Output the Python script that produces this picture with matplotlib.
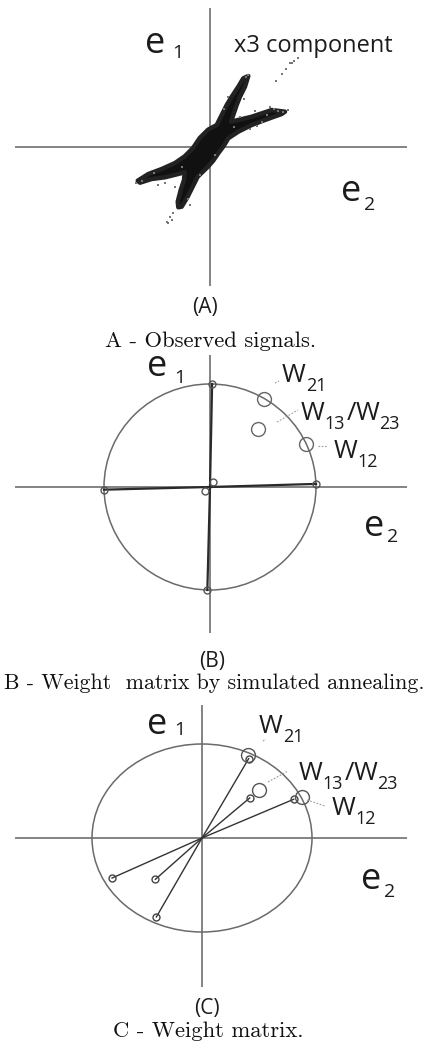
import matplotlib
matplotlib.use('Agg')
import matplotlib.pyplot as plt
from matplotlib.patches import Circle
from matplotlib.lines import Line2D

# panel A: outline of the dense cloud of observed signals (offsets from origin, px)
cloud_x = [38.3, 35.0, 30.0, 26.7, 23.3, 21.0, 41.7, 61.7, 75.0, 71.7, 55.0, 41.7, 28.3, 18.3,
           13.7, 8.7, 3.0, -3.0, -12.3, -17.3, -22.3, -28.3, -31.7, -32.3, -29.3, -26.0, -25.3,
           -31.7, -45.0, -58.3, -70.0, -72.3, -61.7, -48.3, -35.0, -25.3, -17.0, -10.3, -2.0,
           6.7, 11.7, 16.7, 21.7, 28.3, 33.3]
cloud_y = [71.0, 60.3, 50.3, 42.0, 32.0, 25.3, 30.3, 37.0, 35.3, 33.0, 27.0, 22.0, 15.3, 8.7,
           1.0, -5.7, -14.0, -20.7, -29.7, -39.7, -49.7, -59.7, -60.3, -54.7, -43.0, -33.0, -25.3,
           -27.0, -30.3, -32.0, -35.7, -33.7, -27.0, -22.0, -16.0, -9.3, -1.0, 9.0, 17.3,
           22.0, 32.0, 42.0, 50.3, 60.3, 68.7]
# sparse samples (x3 component, tails and fuzzy edges)
tail_x = [88, 80, 72, 82, 66, 78, 73, 68, -37, -42, -38, -40, -74, -68, 38, 36, 47, 52, -52, -22,
          60, 64, 30, 34, 45, 57, 14, 18, -10, -28, -45, -56, -35, -20, 5, 24, 40, 84, 76, -43]
tail_y = [89, 84, 73, 84, 66, 37, 35, 36, -66, -76, -73, -70, -36, -34, 72, 70, 21, 25, -38, -52,
          40, 38, 30, 48, 36, 32, 38, 50, -28, -20, -36, -26, -40, -58, -8, 20, 18, 86, 78, -75]

# panel B: weights found by simulated annealing (unit circle coords)
sa_x = [0.02, 1.0, -1.0, -0.025]
sa_y = [1.0, 0.03, -0.026, -1.0]
sa0_x = [0.025, -0.047]
sa0_y = [0.045, -0.042]
b_ref_x = [0.51, 0.45, 0.905]   # W21, W13/W23, W12
b_ref_y = [0.85, 0.56, 0.42]

# panel C: learned weight matrix
w_x = [0.424, 0.434, 0.834, -0.818, -0.424, -0.415]
w_y = [0.844, 0.426, 0.412, -0.426, -0.44, -0.84]
c_ref_x = [0.415, 0.515, 0.909]
c_ref_y = [0.886, 0.507, 0.436]

W, H = 430, 1052
fig = plt.figure(figsize=(W / 100, H / 100), dpi=100)
rend = fig.canvas.get_renderer()

SANS = 'Open Sans'
TXT = '#1c1c1c'
AXC = '#7a7a7a'


def panel(left, right, top, bottom, ox, oy, rx, ry):
    ax = fig.add_axes([left / W, 1 - bottom / H, (right - left) / W, (bottom - top) / H])
    ax.set_xlim((left - ox) / rx, (right - ox) / rx)
    ax.set_ylim((oy - bottom) / ry, (oy - top) / ry)
    ax.axis('off')
    ax.axhline(0, color=AXC, lw=1.3, zorder=1)
    ax.axvline(0, color=AXC, lw=1.3, zorder=1)
    return ax


def t(x, y, s, size, **kw):
    kw.setdefault('family', SANS)
    kw.setdefault('ha', 'left')
    return fig.text(x / W, 1 - y / H, s, fontsize=size, color=TXT, va='baseline', **kw)


def chain(x, y, pieces):
    # pieces: (text, size, baseline shift in px, gap before in px)
    for s, size, dy, gap in pieces:
        x += gap
        tx = t(x, y + dy, s, size)
        x = tx.get_window_extent(rend).x1


def wlabel(x, y, a, b=None):
    p = [('W', 18.5, 0, 0), (a, 13, 9, 0)]
    if b:
        p += [('/', 18.5, 0, 1), ('W', 18.5, 0, 0), (b, 13, 9, 0)]
    chain(x, y, p)


def leader(x0, y0, x1, y1):
    fig.add_artist(Line2D([x0 / W, x1 / W], [1 - y0 / H, 1 - y1 / H], color='#9a9a9a',
                          lw=0.8, ls=(0, (1.5, 1.5)), transform=fig.transFigure))


def caption(y, s, x=211, size=16.3):
    fig.text(x / W, 1 - y / H, s, fontsize=size, family='cmr10', color='#111',
             ha='center', va='baseline')


# ---------- A ----------
axA = panel(15, 407, 8, 286, 210, 147, 1, 1)
axA.fill(cloud_x, cloud_y, color='#111', lw=3.2, ec='#222', joinstyle='round', zorder=3)
axA.scatter(tail_x, tail_y, s=2, color='#777', marker='s', lw=0, zorder=3)
t(145, 53, 'e', 26)
t(172, 58, '1', 14)
t(234, 52, 'x3 component', 17)
t(341, 201, 'e', 26)
t(364, 210, '2', 14)
t(205, 313, '(A)', 15, ha='center')
caption(347, 'A - Observed signals.')

# ---------- B ----------
axB = panel(15, 407, 355, 633, 210, 487, 106, 103)
axB.add_patch(Circle((0, 0), 1, fill=False, ec='#6a6a6a', lw=1.1, zorder=2))
for x, y in zip(sa_x, sa_y):
    axB.plot([0, x], [0, y], color='#2a2a2a', lw=1.6, zorder=3)
axB.plot(sa_x, sa_y, 'o', ms=5, mfc='none', mec='#555', mew=1, zorder=4)
axB.plot(sa0_x, sa0_y, 'o', ms=5, mfc='none', mec='#555', mew=1, zorder=4)
axB.plot(b_ref_x, b_ref_y, 'o', ms=10, mfc='none', mec='#666', mew=1, zorder=4)
t(147, 376, 'e', 26)
t(174, 383, '1', 14)
wlabel(282, 382, '21')
wlabel(301, 420, '13', '23')
wlabel(334, 458, '12')
t(364, 536, 'e', 26)
t(387, 542, '2', 14)
t(212, 667, '(B)', 15, ha='center')
leader(275, 383, 279, 381)
leader(277, 422, 298, 410)
leader(318, 446, 328, 446)
caption(689, 'B - Weight  matrix by simulated annealing.', x=214, size=15.8)

# ---------- C ----------
axC = panel(15, 407, 705, 987, 202, 838, 110, 94)
axC.add_patch(Circle((0, 0), 1, fill=False, ec='#6a6a6a', lw=1.1, zorder=2))
for x, y in zip(w_x, w_y):
    axC.plot([0, x], [0, y], color='#333', lw=1.0, zorder=3)
axC.plot(w_x, w_y, 'o', ms=5, mfc='none', mec='#444', mew=1, zorder=4)
axC.plot(c_ref_x, c_ref_y, 'o', ms=10, mfc='none', mec='#555', mew=1, zorder=4)
t(147, 734, 'e', 26)
t(174, 735, '1', 14)
wlabel(259, 733, '21')
wlabel(299, 780, '13', '23')
wlabel(332, 815, '12')
t(361, 889, 'e', 26)
t(384, 897, '2', 14)
t(207, 1014, '(C)', 15, ha='center')
leader(263, 741, 266, 739)
leader(268, 782, 288, 771)
leader(307, 800, 325, 806)
caption(1037, 'C - Weight matrix.', x=208)

fig.savefig('out.png', dpi=100)
